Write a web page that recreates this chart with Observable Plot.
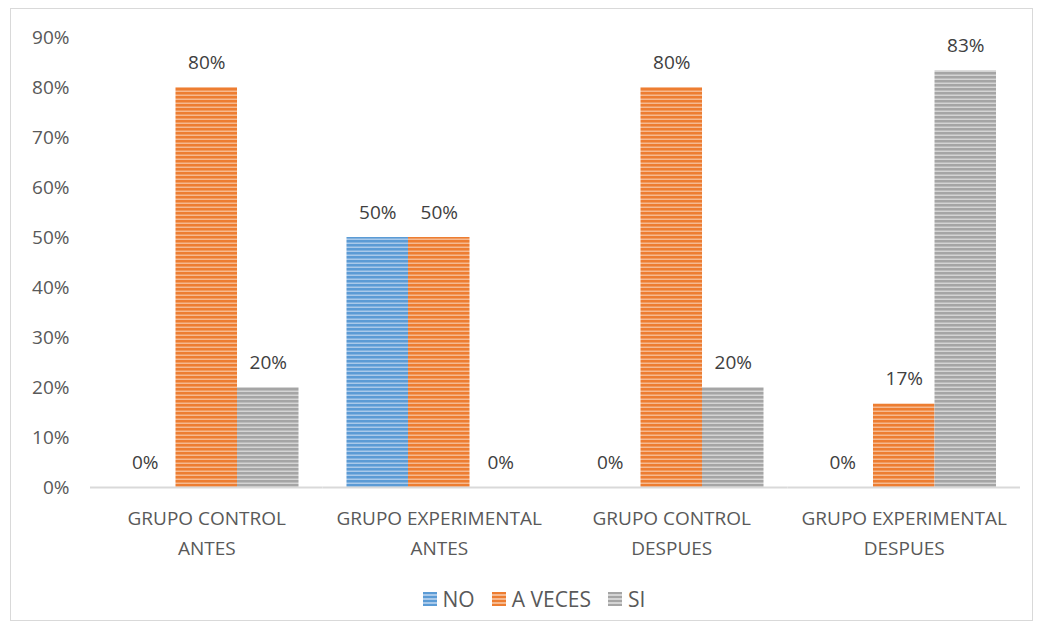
<!DOCTYPE html>
<html>
<head>
<meta charset="utf-8">
<script src="https://cdn.jsdelivr.net/npm/d3@7"></script>
<script src="https://cdn.jsdelivr.net/npm/@observablehq/plot@0.6"></script>
<style>
  body { margin: 0; background: #fff; font-family: "Open Sans", sans-serif; }
  #wrap { position: relative; width: 1044px; height: 632px; }
  #frame { position: absolute; left: 10px; top: 8px; width: 1023px; height: 613px; border: 1px solid #d9d9d9; box-sizing: border-box; pointer-events: none; }
  #legend { position: absolute; left: 12px; top: 585px; width: 1044px; display: flex; justify-content: center; align-items: center; gap: 17px; font-size: 21px; color: #595959; }
  .item { display: flex; align-items: center; gap: 6px; }
  .sw { width: 14px; height: 14px; display: inline-block; }
</style>
</head>
<body>
<div id="wrap">
  <div id="chart"></div>
  <div id="frame"></div>
  <div id="legend"></div>
</div>
<script>
const groups = ["GRUPO CONTROL\nANTES", "GRUPO EXPERIMENTAL\nANTES", "GRUPO CONTROL\nDESPUES", "GRUPO EXPERIMENTAL\nDESPUES"];
const series = ["NO", "A VECES", "SI"];
const valuesNO = [0, 0.50, 0, 0];
const valuesAVeces = [0.80, 0.50, 0.80, 0.167];
const valuesSI = [0.20, 0, 0.20, 0.833];
const yTicks = [0, 0.1, 0.2, 0.3, 0.4, 0.5, 0.6, 0.7, 0.8, 0.9];
const seriesColors = ["#5b9bd5", "#ed7d31", "#a5a5a5"];
const seriesLight = ["#a9c9ea", "#f6b98f", "#d4d4d4"];

const seriesValues = [valuesNO, valuesAVeces, valuesSI];
const data = [];
groups.forEach((g, i) => series.forEach((s, j) => data.push({group: g, series: s, value: seriesValues[j][i]})));

const patIds = series.map((s, j) => "pat" + j);
const FS = 19;

const chart = Plot.plot({
  width: 1044,
  height: 580,
  marginLeft: 90,
  marginRight: 24,
  marginTop: 37,
  marginBottom: 93,
  style: {fontFamily: "Open Sans, sans-serif", fontSize: FS + "px", color: "#595959", background: "transparent"},
  fx: {domain: groups, padding: 0, label: null, round: false},
  x: {domain: series, padding: 0, paddingOuter: 0.39, axis: null, round: false},
  y: {domain: [0, 0.9], label: null},
  color: {domain: series, range: patIds.map(id => `url(#${id})`)},
  marks: [
    Plot.axisY({ticks: yTicks, tickFormat: d3.format(".0%"), tickSize: 0, tickPadding: 21, fontSize: FS, fill: "#595959"}),
    Plot.axisFx({anchor: "bottom", tickSize: 0, tickPadding: 16, fontSize: FS, lineHeight: 1.58, fill: "#595959", label: null}),
    Plot.barY(data, {fx: "group", x: "series", y: "value", fill: "series", inset: 0}),
    Plot.ruleY([0], {stroke: "#d9d9d9", strokeWidth: 2}),
    Plot.text(data, {fx: "group", x: "series", y: "value", text: d => d3.format(".0%")(d.value), dy: -25, fontSize: FS, fill: "#404040"})
  ]
});

const svg = d3.select(chart);
const defs = svg.insert("defs", ":first-child");
patIds.forEach((id, j) => {
  const p = defs.append("pattern").attr("id", id).attr("patternUnits", "userSpaceOnUse").attr("width", 8).attr("height", 4);
  p.append("rect").attr("width", 8).attr("height", 4).attr("fill", seriesColors[j]);
  p.append("rect").attr("y", 2.5).attr("width", 8).attr("height", 1.5).attr("fill", seriesLight[j]);
});
document.getElementById("chart").appendChild(chart);

const legend = d3.select("#legend");
series.forEach((s, j) => {
  const it = legend.append("div").attr("class", "item");
  it.append("span").attr("class", "sw")
    .style("background", `repeating-linear-gradient(to bottom, ${seriesColors[j]} 0px, ${seriesColors[j]} 2.5px, ${seriesLight[j]} 2.5px, ${seriesLight[j]} 4px)`);
  it.append("span").text(s);
});
</script>
</body>
</html>
